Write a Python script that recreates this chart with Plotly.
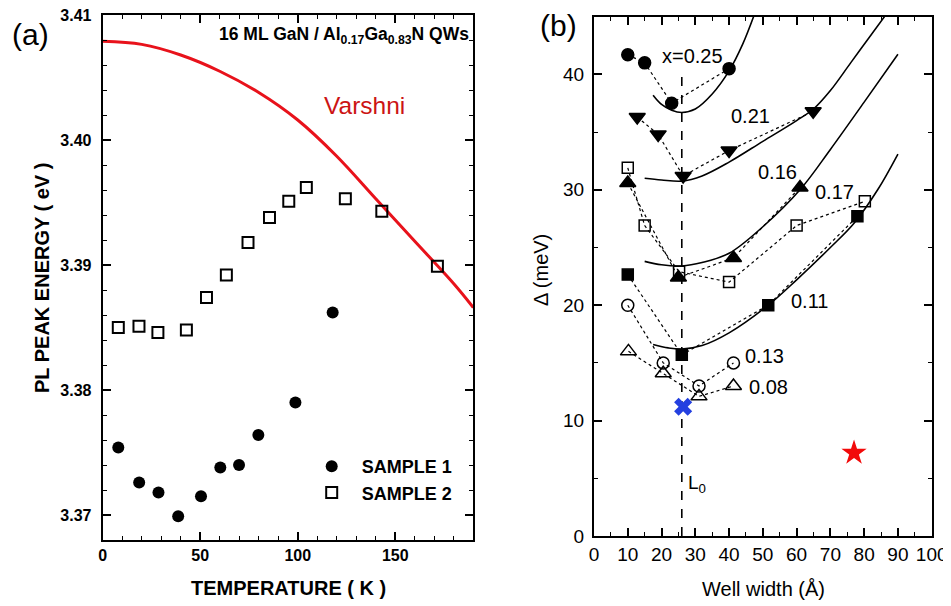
import plotly.graph_objects as go

# Reference canvas is 951x606; the page body adds an 8px margin, so the figure
# starts at (8, 8) and every reference pixel position is shifted by 8.
W, H = 943, 598
OFF = 8
FONT = "Liberation Sans, Arial, Helvetica, sans-serif"

# ---------------- Panel (a) data ----------------
varshni_T = [0, 20, 40, 60, 80, 100, 120, 140, 160, 180, 190]
varshni_E = [3.4079, 3.40765, 3.4068, 3.4055, 3.4038, 3.4016, 3.3987, 3.3953,
             3.3919, 3.3885, 3.3866]
s1_T = [8.0, 18.7, 28.6, 38.7, 50.4, 60.3, 69.9, 79.8, 98.8, 117.9]
s1_E = [3.3754, 3.3726, 3.3718, 3.3699, 3.3715, 3.3738, 3.3740, 3.3764, 3.3790, 3.3862]
s2_T = [8.0, 18.6, 28.3, 42.9, 53.2, 63.4, 74.5, 85.5, 95.4, 104.4, 124.4, 143.1, 171.6]
s2_E = [3.3850, 3.3851, 3.3846, 3.3848, 3.3874, 3.3892, 3.3918, 3.3938, 3.3951,
        3.3962, 3.3953, 3.3943, 3.3899]
a_xticks = [0, 50, 100, 150]
a_yticks = [3.37, 3.38, 3.39, 3.40, 3.41]

# ---------------- Panel (b) data ----------------
x025 = [10, 15, 23, 40];              y025 = [41.7, 41.0, 37.5, 40.5]
x021 = [12.8, 19.0, 26.4, 40.0, 64.9]; y021 = [36.3, 34.8, 31.2, 33.4, 36.8]
x016 = [10, 25, 41.3, 61.0];          y016 = [30.6, 22.4, 24.1, 30.2]
x017 = [10, 15, 25.2, 40, 60, 80.2];  y017 = [31.9, 26.9, 22.9, 22.0, 26.9, 29.0]
x011 = [10, 26, 51.6, 78];            y011 = [22.65, 15.7, 20.0, 27.7]
x013 = [10, 20.5, 31.1, 41.3];        y013 = [20.0, 15.0, 13.0, 15.0]
x008 = [10.2, 20.5, 31.1, 41.3];      y008 = [16.0, 14.1, 12.1, 13.0]

fit_x025 = [17.5, 20, 23, 26, 30, 35, 40, 44, 47.5]
fit_y025 = [38.2, 37.4, 36.9, 36.7, 37.0, 38.3, 40.3, 42.6, 45.2]
fit_x021 = [15, 20, 26, 32, 40, 50, 60, 65, 70, 76, 81, 86.5]
fit_y021 = [31.0, 30.85, 30.75, 31.2, 32.4, 34.2, 36.0, 37.0, 38.6, 41.0, 43.0, 45.2]
fit_x016 = [15, 20, 26, 32, 40, 50, 61, 70, 80, 90]
fit_y016 = [23.8, 23.5, 23.4, 23.7, 24.5, 26.8, 30.0, 33.5, 37.6, 41.75]
fit_x011 = [17.5, 22, 26, 32, 40, 51.6, 60, 70, 77, 84, 90]
fit_y011 = [16.6, 16.3, 16.2, 16.5, 17.6, 20.0, 22.2, 25.0, 27.1, 30.0, 33.1]

L0 = 26
L0_span = [0, 40]
cross_x, cross_y = [26.4], [11.2]
star_x, star_y = [77], [7.2]

curve_labels = ["x=0.25", "0.21", "0.16", "0.17", "0.11", "0.13", "0.08"]
label_x = [29.3, 46.2, 54.3, 71.1, 63.7, 50.6, 51.8]
label_y = [41.6, 36.4, 31.5, 29.8, 20.4, 15.6, 12.9]

b_xticks = list(range(0, 101, 10))
b_yticks = [0, 10, 20, 30, 40]


def px(x):
    return (x - OFF) / W


def py(y):
    return (H - (y - OFF)) / H


fig = go.Figure()

# ---- panel (a) traces ----
fig.add_trace(go.Scatter(x=varshni_T, y=varshni_E, mode="lines",
                         line=dict(color="#e8121b", width=3, shape="spline", smoothing=1.0),
                         showlegend=False, xaxis="x", yaxis="y"))
fig.add_trace(go.Scatter(x=s1_T, y=s1_E, mode="markers", name="SAMPLE 1",
                         marker=dict(symbol="circle", size=12, color="black"),
                         xaxis="x", yaxis="y"))
fig.add_trace(go.Scatter(x=s2_T, y=s2_E, mode="markers", name="SAMPLE 2",
                         marker=dict(symbol="square-open", size=11, color="black",
                                     line=dict(width=2, color="black")),
                         xaxis="x", yaxis="y"))

# ---- panel (b) traces ----
dot = dict(color="black", width=1.2, dash="dot")
series = [
    (x025, y025, "circle", 12),
    (x021, y021, "triangle-down", 14),
    (x016, y016, "triangle-up", 14),
    (x017, y017, "square-open", 11),
    (x011, y011, "square", 11),
    (x013, y013, "circle-open", 12),
    (x008, y008, "triangle-up-open", 14),
]
for xs, ys, sym, sz in series:
    fig.add_trace(go.Scatter(x=xs, y=ys, mode="lines", line=dot,
                             showlegend=False, xaxis="x2", yaxis="y2"))
for fx, fy in [(fit_x025, fit_y025), (fit_x021, fit_y021),
               (fit_x016, fit_y016), (fit_x011, fit_y011)]:
    fig.add_trace(go.Scatter(x=fx, y=fy, mode="lines",
                             line=dict(color="black", width=1.6, shape="spline"),
                             showlegend=False, xaxis="x2", yaxis="y2"))
fig.add_trace(go.Scatter(x=[L0, L0], y=L0_span, mode="lines",
                         line=dict(color="black", width=1.6, dash="dash"),
                         showlegend=False, xaxis="x2", yaxis="y2"))
for xs, ys, sym, sz in series:
    fig.add_trace(go.Scatter(x=xs, y=ys, mode="markers",
                             marker=dict(symbol=sym, size=sz, color="black",
                                         line=dict(width=1.5, color="black")),
                             showlegend=False, xaxis="x2", yaxis="y2"))
fig.add_trace(go.Scatter(x=cross_x, y=cross_y, mode="markers",
                         marker=dict(symbol="x", size=16, color="#2440e0",
                                     line=dict(width=0)),
                         showlegend=False, xaxis="x2", yaxis="y2"))
fig.add_trace(go.Scatter(x=star_x, y=star_y, mode="markers",
                         marker=dict(symbol="star", size=19, color="#f20a0a",
                                     line=dict(width=0)),
                         showlegend=False, xaxis="x2", yaxis="y2"))

bold_tick = dict(family=FONT, size=16, color="black", weight="bold")
norm_tick = dict(family=FONT, size=19, color="black")

axis_common = dict(showgrid=False, zeroline=False, showline=True, linewidth=2,
                   linecolor="black", mirror="allticks", ticks="inside",
                   tickcolor="black", tickwidth=1.5, ticklen=8,
                   automargin=False, ticklabeloverflow="allow")

annotations = []
for t, lx, ly in zip(curve_labels, label_x, label_y):
    annotations.append(dict(x=lx, y=ly, xref="x2", yref="y2", text=t,
                            xanchor="center", yanchor="middle", showarrow=False,
                            font=dict(family=FONT, size=20, color="black")))
annotations.append(dict(x=L0 + 1.2, y=4.5, xref="x2", yref="y2", text="L<sub>0</sub>",
                        xanchor="left", yanchor="middle", showarrow=False,
                        font=dict(family=FONT, size=19, color="black")))


def pann(x, y, text, font, angle=0, xanchor="center"):
    return dict(x=px(x), y=py(y), xref="paper", yref="paper", text=text,
                xanchor=xanchor, yanchor="middle", textangle=angle,
                showarrow=False, font=font)


annotations += [
    pann(30, 35, "(a)", dict(family=FONT, size=30, color="black")),
    pann(558, 26, "(b)", dict(family=FONT, size=30, color="black")),
    pann(471, 36, "16 ML GaN / Al<sub>0.17</sub>Ga<sub>0.83</sub>N QWs",
         dict(family=FONT, size=17.5, color="black", weight="bold"), xanchor="right"),
    pann(364, 105, "Varshni", dict(family=FONT, size=24.5, color="#cc1414")),
    pann(288, 588, "TEMPERATURE ( K )",
         dict(family=FONT, size=20, color="black", weight="bold")),
    pann(42, 278, "PL PEAK ENERGY ( eV )",
         dict(family=FONT, size=20, color="black", weight="bold"), angle=-90),
    pann(763, 589, "Well width (Å)", dict(family=FONT, size=20, color="black")),
    pann(541, 270, "Δ (meV)", dict(family=FONT, size=20, color="black"), angle=-90),
]

fig.update_layout(
    width=W, height=H,
    margin=dict(l=0, r=0, t=0, b=0, pad=0, autoexpand=False),
    paper_bgcolor="white", plot_bgcolor="white",
    font=dict(family=FONT, color="black"),
    xaxis=dict(domain=[px(102.7), px(473.3)], range=[0, 190], anchor="y",
               tickvals=a_xticks, tickfont=bold_tick,
               minor=dict(dtick=10, tick0=0, ticklen=4, ticks="inside",
                          tickcolor="black", tickwidth=1.2, showgrid=False),
               **axis_common),
    yaxis=dict(domain=[py(540), py(15)], range=[3.368, 3.41], anchor="x",
               tickvals=a_yticks, ticktext=[f"{v:.2f}" for v in a_yticks],
               tickfont=bold_tick, ticklabelstandoff=6,
               minor=dict(dtick=0.002, tick0=3.37, ticklen=4, ticks="inside",
                          tickcolor="black", tickwidth=1.2, showgrid=False),
               **axis_common),
    xaxis2=dict(domain=[px(594), px(931.7)], range=[0, 100], anchor="y2",
                tickvals=b_xticks, tickfont=norm_tick,
                minor=dict(dtick=5, tick0=0, ticklen=4, ticks="inside",
                           tickcolor="black", tickwidth=1.2, showgrid=False),
                **axis_common),
    yaxis2=dict(domain=[py(536), py(16.7)], range=[0, 45], anchor="x2",
                tickvals=b_yticks, tickfont=norm_tick, ticklabelstandoff=4,
                minor=dict(dtick=5, tick0=0, ticklen=4, ticks="inside",
                           tickcolor="black", tickwidth=1.2, showgrid=False),
                **axis_common),
    showlegend=True,
    legend=dict(x=px(301.7), y=py(479.5), xanchor="left", yanchor="middle",
                bgcolor="rgba(0,0,0,0)", borderwidth=0, itemwidth=50,
                font=dict(family=FONT, size=18, color="black", weight="bold"),
                tracegroupgap=0),
    annotations=annotations,
)

fig.write_html("out.html")
